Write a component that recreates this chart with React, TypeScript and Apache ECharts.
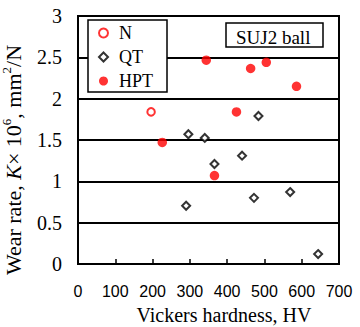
import React, { useEffect, useRef } from "react";
import * as echarts from "echarts";

// Vickers hardness (HV) vs wear rate K x 10^6 (mm^2/N)
const nHardness = [196];
const nWear = [1.84];

const qtHardness = [484, 296, 340, 440, 366, 290, 472, 569, 644];
const qtWear = [1.79, 1.57, 1.525, 1.31, 1.21, 0.705, 0.8, 0.87, 0.12];

const hptHardness = [344, 463, 505, 586, 425, 226, 366];
const hptWear = [2.465, 2.365, 2.44, 2.15, 1.84, 1.47, 1.07];

const seriesNames = ["N", "QT", "HPT"];
const xTitle = "Vickers hardness, HV";
const yTitle = "Wear rate, {i|K}× 10{sup|6}, mm{sup|2}/N";
const boxLabel = "SUJ2 ball";

const SERIF = "'Liberation Serif', 'Times New Roman', serif";
const SANS = "'Liberation Sans', Arial, sans-serif";

const zip = (xs: number[], ys: number[]) => xs.map((x, i) => [x, ys[i]]);

export default function App() {
  const ref = useRef<HTMLDivElement>(null);
  useEffect(() => {
    if (!ref.current) return;
    const chart = echarts.init(ref.current, null, { renderer: "svg" });
    chart.setOption({
      animation: false,
      backgroundColor: "#fff",
      title: {
        text: boxLabel,
        left: 226,
        top: 23,
        padding: [5, 13, 0, 10],
        borderColor: "#000",
        borderWidth: 1.5,
        backgroundColor: "#fff",
        textStyle: {
          fontFamily: SERIF,
          fontSize: 19,
          fontWeight: "normal",
          color: "#000",
          lineHeight: 19,
        },
      },
      legend: {
        data: seriesNames,
        orient: "vertical",
        left: 88,
        top: 20,
        padding: [4, 14, 2, 10],
        itemGap: 6,
        itemWidth: 9,
        itemHeight: 9,
        borderColor: "#000",
        borderWidth: 1.5,
        backgroundColor: "#fff",
        textStyle: {
          fontFamily: SERIF,
          fontSize: 18,
          color: "#000",
          lineHeight: 18,
          padding: [0, 0, 0, 6],
        },
      },
      grid: {
        left: 78,
        right: 21,
        top: 16,
        bottom: 63,
        outerBoundsMode: "none",
        containLabel: false,
        show: true,
        borderColor: "#000",
        borderWidth: 2,
      },
      xAxis: {
        type: "value",
        min: 0,
        max: 700,
        interval: 100,
        name: xTitle,
        nameLocation: "middle",
        nameGap: 41,
        nameTextStyle: {
          fontFamily: SERIF,
          fontSize: 20,
          color: "#000",
          lineHeight: 20,
          padding: [0, 0, 0, 31],
        },
        axisLine: { show: true, lineStyle: { color: "#000", width: 2 } },
        axisTick: { show: true, inside: true, length: 5, lineStyle: { color: "#000", width: 1.5 } },
        axisLabel: {
          fontFamily: SANS,
          fontSize: 16,
          color: "#000",
          margin: 19,
          lineHeight: 16,
        },
        splitLine: { show: false },
      },
      yAxis: {
        type: "value",
        min: 0,
        max: 3,
        interval: 0.5,
        name: yTitle,
        nameLocation: "middle",
        nameRotate: 90,
        nameGap: 40,
        nameTextStyle: {
          fontFamily: SERIF,
          fontSize: 22,
          color: "#000",
          lineHeight: 26,
          padding: [0, 40, 0, 0],
          rich: {
            i: { fontFamily: SERIF, fontSize: 22, fontStyle: "italic", color: "#000", lineHeight: 26 },
            sup: { fontFamily: SERIF, fontSize: 13, color: "#000", lineHeight: 13, verticalAlign: "top" },
          },
        },
        axisLine: { show: true, lineStyle: { color: "#000", width: 2 } },
        axisTick: { show: false },
        axisLabel: {
          fontFamily: SERIF,
          fontSize: 20,
          color: "#000",
          margin: 16,
          padding: [10, 0, 0, 0],
        },
        splitLine: { show: true, lineStyle: { color: "#000", width: 2 } },
      },
      series: [
        {
          name: "N",
          type: "scatter",
          symbol: "emptyCircle",
          symbolSize: 7.5,
          itemStyle: { color: "#ff0000", borderColor: "#ff0000", borderWidth: 1.7 },
          data: zip(nHardness, nWear),
          z: 3,
        },
        {
          name: "QT",
          type: "scatter",
          symbol: "emptyDiamond",
          symbolSize: 8,
          itemStyle: { color: "#000", borderColor: "#000", borderWidth: 1.5 },
          data: zip(qtHardness, qtWear),
          z: 3,
        },
        {
          name: "HPT",
          type: "scatter",
          symbol: "circle",
          symbolSize: 9.5,
          itemStyle: { color: "#ff0000" },
          data: zip(hptHardness, hptWear),
          z: 3,
        },
      ],
    });
    return () => chart.dispose();
  }, []);
  return (
    <div
      ref={ref}
      style={{ position: "fixed", left: 0, top: 0, width: 360, height: 327 }}
    />
  );
}
